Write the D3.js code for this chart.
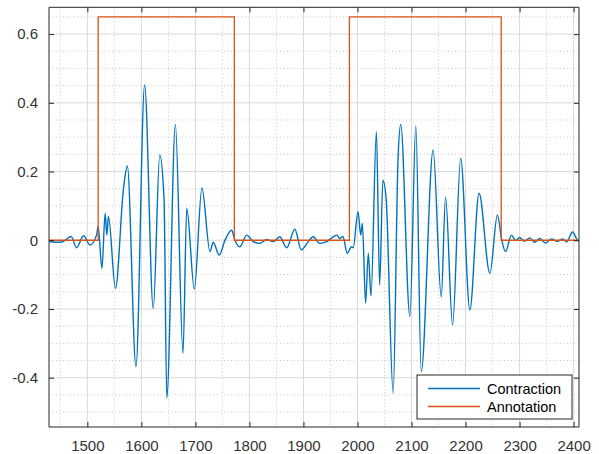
<!DOCTYPE html>
<html>
<head>
<meta charset="utf-8">
<script src="https://cdn.jsdelivr.net/npm/d3@7"></script>
<style>
  html, body { margin: 0; padding: 0; background: #ffffff; }
  svg { display: block; font-family: "Liberation Sans", Arial, Helvetica, sans-serif; }
</style>
</head>
<body>
<svg id="chart" width="599" height="454"></svg>
<script>
// ---------------- data ----------------
const contractionX = [1430,1440,1453,1470,1480,1493,1505,1517,1520,1527,1533,1536,1539,1552,1567,1574,1590,1606,1622,1634,1642,1647,1663,1677,1684,1698,1712,1727,1733,1744,1755,1767,1773,1782,1795,1807,1819,1832,1844,1856,1869,1884,1896,1909,1918,1930,1943,1955,1962,1967,1973,1981,1989,1992,2001,2006,2009,2015,2020,2025,2035,2041,2047,2053,2066,2075,2080,2097,2108,2118,2140,2155,2163,2176,2191,2208,2225,2245,2259,2267,2274,2285,2293,2300,2309,2319,2328,2337,2348,2359,2370,2380,2387,2398,2407,2410];
const contractionY = [-0.003,-0.006,-0.005,0.011,-0.022,0.013,-0.014,0.015,0.040,-0.082,0.079,0.015,0.069,-0.140,0.152,0.216,-0.368,0.452,-0.199,0.248,0.117,-0.459,0.337,-0.329,0.093,-0.142,0.152,-0.033,-0.006,-0.043,0.001,0.029,0.001,-0.019,0.015,-0.004,-0.009,0.002,-0.004,0.010,-0.022,0.032,-0.028,-0.004,0.010,-0.009,-0.004,0.010,0.015,0.005,0.011,-0.038,-0.019,-0.022,0.083,0.015,0.049,-0.183,-0.038,-0.162,0.316,-0.130,0.175,0.122,-0.445,0.234,0.337,-0.222,0.333,-0.382,0.263,-0.165,0.125,-0.247,0.239,-0.203,0.137,-0.096,0.074,0.001,-0.033,0.015,-0.001,0.008,-0.003,0.007,-0.006,0.005,-0.008,0.004,-0.003,0.004,-0.005,0.024,0.001,-0.002];

const annotationX = [1429, 1520, 1520, 1772, 1772, 1985, 1985, 2266, 2266, 2410];
const annotationY = [0, 0, 0.65, 0.65, 0, 0, 0.65, 0.65, 0, 0];

const xTicks = [1500, 1600, 1700, 1800, 1900, 2000, 2100, 2200, 2300, 2400];
const yTicks = [-0.4, -0.2, 0, 0.2, 0.4, 0.6];
const xMinor = [1450, 1550, 1650, 1750, 1850, 1950, 2050, 2150, 2250, 2350];
const yMinor = [-0.5, -0.45, -0.35, -0.3, -0.25, -0.15, -0.1, -0.05, 0.05, 0.1, 0.15, 0.25, 0.3, 0.35, 0.45, 0.5, 0.55, 0.65];
const seriesNames = ["Contraction", "Annotation"];
const seriesColors = ["#0072BD", "#D95319"];

// ---------------- layout ----------------
const L = 49, R = 579, T = 7.3, B = 427;
const svg = d3.select("#chart");
const x = d3.scaleLinear().domain([1429, 2410]).range([L, R]);
const y = d3.scaleLinear().domain([-0.5435, 0.678]).range([B, T]);

// minor grid
const g = svg.append("g");
g.selectAll("line.mx").data(xMinor).join("line")
  .attr("x1", d => x(d)).attr("x2", d => x(d)).attr("y1", T).attr("y2", B)
  .attr("stroke", "#c8c8c8").attr("stroke-width", 1).attr("stroke-dasharray", "1,2.5");
g.selectAll("line.my").data(yMinor).join("line")
  .attr("y1", d => y(d)).attr("y2", d => y(d)).attr("x1", L).attr("x2", R)
  .attr("stroke", "#c8c8c8").attr("stroke-width", 1).attr("stroke-dasharray", "1,2.5");
// major grid
g.selectAll("line.gx").data(xTicks).join("line")
  .attr("x1", d => x(d)).attr("x2", d => x(d)).attr("y1", T).attr("y2", B)
  .attr("stroke", "#d9d9d9").attr("stroke-width", 1);
g.selectAll("line.gy").data(yTicks).join("line")
  .attr("y1", d => y(d)).attr("y2", d => y(d)).attr("x1", L).attr("x2", R)
  .attr("stroke", "#d9d9d9").attr("stroke-width", 1);

// lines
const contraction = contractionX.map((v, i) => [v, contractionY[i]]);
const annotation = annotationX.map((v, i) => [v, annotationY[i]]);
const lineSmooth = d3.line().x(d => x(d[0])).y(d => y(d[1])).curve(d3.curveMonotoneX);
const lineStep = d3.line().x(d => x(d[0])).y(d => y(d[1]));
const clip = svg.append("clipPath").attr("id", "clip").append("rect")
  .attr("x", L).attr("y", T).attr("width", R - L).attr("height", B - T);
const plot = svg.append("g").attr("clip-path", "url(#clip)");
plot.append("path").attr("d", lineSmooth(contraction)).attr("fill", "none")
  .attr("stroke", seriesColors[0]).attr("stroke-width", 1.4).attr("stroke-linejoin", "round");
plot.append("path").attr("d", lineStep(annotation)).attr("fill", "none")
  .attr("stroke", seriesColors[1]).attr("stroke-width", 1.3);

// axes (MATLAB style: ticks inward, box)
const axCol = "#262626";
const xAxisB = d3.axisBottom(x).tickValues(xTicks).tickSize(-5).tickPadding(13).tickFormat(d3.format("d"));
const xAxisT = d3.axisTop(x).tickValues(xTicks).tickSize(-5).tickFormat("");
const yAxisL = d3.axisLeft(y).tickValues(yTicks).tickSize(-5).tickPadding(11).tickFormat(d => d === 0 ? "0" : d3.format(".1f")(d).replace("−", "-"));
const yAxisR = d3.axisRight(y).tickValues(yTicks).tickSize(-5).tickFormat("");

function style(sel) {
  sel.select(".domain").attr("stroke", axCol).attr("stroke-width", 1);
  sel.selectAll(".tick line").attr("stroke", axCol);
  sel.selectAll(".tick text").attr("fill", "#333333").style("font-size", "15px")
     .style("font-family", "'Liberation Sans', Arial, Helvetica, sans-serif");
}
svg.append("g").attr("transform", `translate(0,${B})`).call(xAxisB).call(style).call(s => s.select(".domain").attr("d", `M${L},0H${R}`));
svg.append("g").attr("transform", `translate(0,${T})`).call(xAxisT).call(style).call(s => s.select(".domain").attr("d", `M${L},0H${R}`));
svg.append("g").attr("transform", `translate(${L},0)`).call(yAxisL).call(style).call(s => s.select(".domain").attr("d", `M0,${T}V${B}`));
svg.append("g").attr("transform", `translate(${R},0)`).call(yAxisR).call(style).call(s => s.select(".domain").attr("d", `M0,${T}V${B}`));

// legend
const lg = svg.append("g");
lg.append("rect").attr("x", 417).attr("y", 375).attr("width", 155).attr("height", 44)
  .attr("fill", "#ffffff").attr("stroke", "#262626").attr("stroke-width", 1);
seriesNames.forEach((name, i) => {
  const yy = 388.5 + i * 18;
  lg.append("line").attr("x1", 428).attr("x2", 480).attr("y1", yy).attr("y2", yy)
    .attr("stroke", seriesColors[i]).attr("stroke-width", 1.3);
  lg.append("text").attr("x", 487).attr("y", yy).attr("dy", "0.35em")
    .attr("fill", "#000").style("font-size", "14.5px").text(name);
});
</script>
</body>
</html>
